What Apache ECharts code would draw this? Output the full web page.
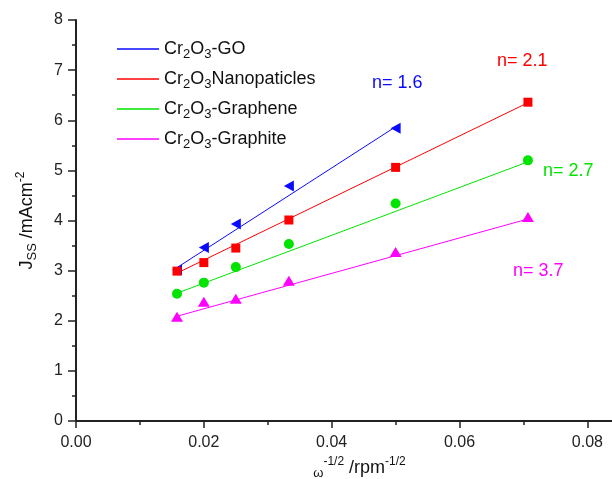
<!DOCTYPE html>
<html>
<head>
<meta charset="utf-8">
<script src="https://cdn.jsdelivr.net/npm/echarts@6/dist/echarts.min.js"></script>
<style>
  html, body { margin: 0; padding: 0; background: #fff; }
  #chart { width: 612px; height: 479px; }
</style>
</head>
<body>
<div id="chart"></div>
<script>
// ω^-1/2 values of the rotation rates
const xValues = [0.0158, 0.0200, 0.0250, 0.0333, 0.0500, 0.0707];

// Steady-state current density (mA cm^-2)
const goValues       = [3.01, 3.46, 3.93, 4.69, 5.84];
const nanoValues     = [2.99, 3.16, 3.45, 4.01, 5.06, 6.36];
const grapheneValues = [2.54, 2.76, 3.07, 3.53, 4.34, 5.20];
const graphiteValues = [2.08, 2.38, 2.44, 2.80, 3.37, 4.07];

// Straight-line fits: end points
const goFitX = [0.0158, 0.0500];       const goFitY = [3.06, 5.87];
const nanoFitX = [0.0158, 0.0707];     const nanoFitY = [2.95, 6.35];
const grapheneFitX = [0.0158, 0.0707]; const grapheneFitY = [2.55, 5.17];
const graphiteFitX = [0.0158, 0.0707]; const graphiteFitY = [2.09, 4.03];

const seriesNames = ['Cr2O3-GO', 'Cr2O3Nanopaticles', 'Cr2O3-Graphene', 'Cr2O3-Graphite'];
const slopeLabels = ['n= 1.6', 'n= 2.1', 'n= 2.7', 'n= 3.7'];
const colors = ['#0a0aff', '#ff0000', '#00e400', '#ff00ff'];

const pairs = (xs, ys) => ys.map((y, i) => [xs[i], y]);

const FONT = '"Liberation Sans", Arial, sans-serif';
const richText = {
  n:   { fontFamily: FONT, fontSize: 18, color: '#111', lineHeight: 24 },
  s:   { fontFamily: FONT, fontSize: 13, color: '#111', lineHeight: 9, verticalAlign: 'bottom' },
  sup: { fontFamily: FONT, fontSize: 12, color: '#111', lineHeight: 12, verticalAlign: 'top' },
  w:   { fontFamily: FONT, fontSize: 13, color: '#111', lineHeight: 9, verticalAlign: 'bottom' }
};

const markers = [
  { data: pairs(xValues, goValues),       symbol: 'triangle', size: [11, 10], rotate: 90 },
  { data: pairs(xValues, nanoValues),     symbol: 'rect',     size: 9,        rotate: 0 },
  { data: pairs(xValues, grapheneValues), symbol: 'circle',   size: 10,       rotate: 0 },
  { data: pairs(xValues, graphiteValues), symbol: 'triangle', size: [12, 10], rotate: 0 }
];
const fits = [
  pairs(goFitX, goFitY),
  pairs(nanoFitX, nanoFitY),
  pairs(grapheneFitX, grapheneFitY),
  pairs(graphiteFitX, graphiteFitY)
];

const series = [];
fits.forEach((d, i) => {
  series.push({
    name: seriesNames[i], type: 'line', data: d, symbol: 'none',
    lineStyle: { color: colors[i], width: 1 }, itemStyle: { color: colors[i] },
    silent: true, z: 2
  });
});
markers.forEach((m, i) => {
  series.push({
    name: seriesNames[i] + ' data', type: 'scatter', data: m.data,
    symbol: m.symbol, symbolSize: m.size, symbolRotate: m.rotate,
    itemStyle: { color: colors[i], opacity: 1 }, silent: true, z: 3
  });
});

// annotation positions for the slope labels
const labelPos = [[372, 84], [497, 62], [543, 172], [513, 272]];

const chart = echarts.init(document.getElementById('chart'), null, { renderer: 'canvas' });
chart.setOption({
  animation: false,
  backgroundColor: '#fff',
  grid: { left: 76, top: 20, bottom: 58, right: -31, containLabel: false, outerBoundsMode: 'none' },
  legend: {
    orient: 'vertical', left: 117, top: 40, padding: 0,
    itemWidth: 42, itemHeight: 1.5, itemGap: 9,
    icon: 'rect',
    data: seriesNames.map((n, i) => ({ name: n, itemStyle: { color: colors[i] } })),
    formatter: name => {
      const rest = name.replace(/^Cr2O3/, '');
      return '{n|Cr}{s|2}{n|O}{s|3}{n|' + rest + '}';
    },
    textStyle: { rich: richText },
    selectedMode: false
  },
  xAxis: {
    type: 'value', min: 0, max: 0.0887, interval: 0.02,
    name: '{w|ω}{sup|-1/2}{n| /rpm}{sup|-1/2}',
    nameLocation: 'middle', nameGap: 35,
    nameTextStyle: { rich: richText },
    axisLine: { onZero: false, lineStyle: { color: '#222', width: 2 } },
    axisTick: { inside: false, length: 7, lineStyle: { color: '#222', width: 1.5 } },
    minorTick: { show: true, splitNumber: 2, length: 4, lineStyle: { color: '#222', width: 1.5 } },
    splitLine: { show: false },
    axisLabel: {
      margin: 14, fontFamily: FONT, fontSize: 16, color: '#222',
      formatter: v => (Math.abs(v / 0.02 - Math.round(v / 0.02)) < 1e-6 ? v.toFixed(2) : '')
    }
  },
  yAxis: {
    type: 'value', min: 0, max: 8, interval: 1,
    name: '{n|J}{s|SS}{n| /mAcm}{sup|-2}',
    nameLocation: 'middle', nameGap: 37,
    nameTextStyle: { rich: richText },
    axisLine: { show: true, onZero: false, lineStyle: { color: '#222', width: 2 } },
    axisTick: { show: true, inside: false, length: 8, lineStyle: { color: '#222', width: 1.5 } },
    minorTick: { show: true, splitNumber: 2, length: 4, lineStyle: { color: '#222', width: 1.5 } },
    splitLine: { show: false },
    axisLabel: { margin: 13, fontFamily: FONT, fontSize: 16, color: '#222' }
  },
  graphic: slopeLabels.map((t, i) => ({
    type: 'text', left: labelPos[i][0], top: labelPos[i][1] - 10, silent: true,
    style: { text: t, fill: colors[i], font: '18px ' + FONT }
  })),
  series: series
});
</script>
</body>
</html>
